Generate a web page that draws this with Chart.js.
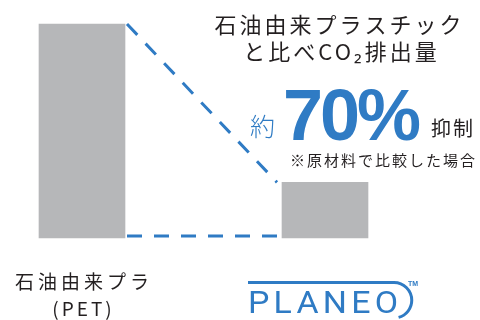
<!DOCTYPE html>
<html>
<head>
<meta charset="utf-8">
<script src="https://cdn.jsdelivr.net/npm/chart.js@4"></script>
<style>
  html, body { margin: 0; padding: 0; background: #fff; }
  #wrap { width: 480px; height: 320px; }
</style>
</head>
<body>
<div id="wrap"><canvas id="chart"></canvas></div>
<script>
// Relative CO2 emissions, petroleum-based PET = 100
const categories = ['石油由来プラ', 'PLANEO'];
const emissions = [100, 26];
const subLabels = ['(PET)', ''];
const titleLines = ['石油由来プラスチック', 'と比べCO₂排出量'];
const reductionPrefix = '約';
const reductionText = '70%';
const reductionSuffix = '抑制';
const noteText = '※原材料で比較した場合';

const GRAY = '#b6b7b9';
const BLUE = '#2f7bc4';
const INK = '#231f20';
const JP = "'Noto Sans CJK JP', 'Noto Sans', sans-serif";

// Draw text with letter spacing; centred text gets nudged back by half a gap
function putText(ctx, text, x, y, font, color, spacing, align) {
    ctx.font = font;
    ctx.fillStyle = color;
    ctx.letterSpacing = spacing + 'px';
    ctx.textAlign = align;
    ctx.textBaseline = 'middle';
    ctx.fillText(text, align === 'center' ? x + spacing / 2 : x, y);
}

/**
 * Dashed connectors between the two bars (top-to-top and along the base)
 */
const connectorPlugin = {
    id: 'connector',
    afterDatasetsDraw(chart) {
        const bars = chart.getDatasetMeta(0).data;
        const a = bars[0], b = bars[1];
        const x0 = a.x + a.width / 2 + 2;
        const x1 = b.x - b.width / 2 - 5;
        const ctx = chart.ctx;
        ctx.save();
        ctx.strokeStyle = BLUE;
        ctx.lineWidth = 3;
        ctx.setLineDash([15, 12]);
        ctx.beginPath();
        ctx.moveTo(x0, a.y);
        ctx.lineTo(x1, b.y);
        ctx.stroke();
        ctx.beginPath();
        ctx.moveTo(x0, a.base - 2);
        ctx.lineTo(x1, b.base - 2);
        ctx.stroke();
        ctx.restore();
    }
};

function drawLogo(ctx, left, top) {
    ctx.save();
    ctx.strokeStyle = BLUE;
    ctx.fillStyle = BLUE;
    ctx.lineWidth = 3;
    // swoosh over the letters, wrapping round the O
    ctx.beginPath();
    ctx.moveTo(left, top + 0.5);
    ctx.lineTo(left + 146, top + 0.5);
    ctx.arc(left + 146, top + 18.25, 17.75, -Math.PI / 2, Math.PI / 2.4);
    ctx.stroke();
    // letters, stretched to fit the mark
    ctx.font = "400 32px Roboto";
    ctx.letterSpacing = '4px';
    ctx.textAlign = 'left';
    ctx.textBaseline = 'alphabetic';
    const w = ctx.measureText(categories[1]).width - 4;
    const sx = 150 / w;
    ctx.translate(left, top + 31);
    ctx.scale(sx, 1);
    ctx.fillText(categories[1], 0, 0);
    ctx.restore();
    ctx.save();
    ctx.fillStyle = BLUE;
    ctx.font = "bold 7px 'Liberation Sans'";
    ctx.textBaseline = 'middle';
    ctx.fillText('TM', left + 160, top + 2);
    ctx.restore();
}

const textPlugin = {
    id: 'annotations',
    afterDraw(chart) {
        const ctx = chart.ctx;
        const bars = chart.getDatasetMeta(0).data;
        ctx.save();
        putText(ctx, titleLines[0], 338, 25, `400 22px ${JP}`, INK, 3, 'center');
        putText(ctx, titleLines[1], 340, 52, `400 22px ${JP}`, INK, 3, 'center');
        putText(ctx, reductionPrefix, 250, 126, `300 25px ${JP}`, BLUE, 0, 'left');

        ctx.font = "bold 72px 'Liberation Sans'";
        ctx.fillStyle = BLUE;
        ctx.letterSpacing = '-3px';
        ctx.textAlign = 'left';
        ctx.textBaseline = 'alphabetic';
        ctx.fillText(reductionText, 283, 140);

        putText(ctx, reductionSuffix, 431, 128, `400 20px ${JP}`, INK, 2, 'left');
        putText(ctx, noteText, 290, 160, `400 15px ${JP}`, INK, 2, 'left');

        // category labels under the bars
        putText(ctx, categories[0], bars[0].x, 282, `400 19px ${JP}`, INK, 4, 'center');
        putText(ctx, subLabels[0], bars[0].x, 309, `400 19px ${JP}`, INK, 3, 'center');
        ctx.restore();

        drawLogo(ctx, bars[1].x - 77, 282);
    }
};

new Chart(document.getElementById('chart'), {
    type: 'bar',
    data: {
        labels: categories,
        datasets: [{
            data: emissions,
            backgroundColor: GRAY,
            barThickness: 86,
            clip: false
        }]
    },
    options: {
        responsive: true,
        maintainAspectRatio: false,
        animation: false,
        layout: { padding: { left: 82, right: 155, top: 24, bottom: 82 } },
        plugins: {
            legend: { display: false },
            tooltip: { enabled: false }
        },
        scales: {
            x: { type: 'category', offset: false, display: false },
            y: { min: 0, max: 100, display: false }
        }
    },
    plugins: [connectorPlugin, textPlugin]
});
</script>
</body>
</html>
